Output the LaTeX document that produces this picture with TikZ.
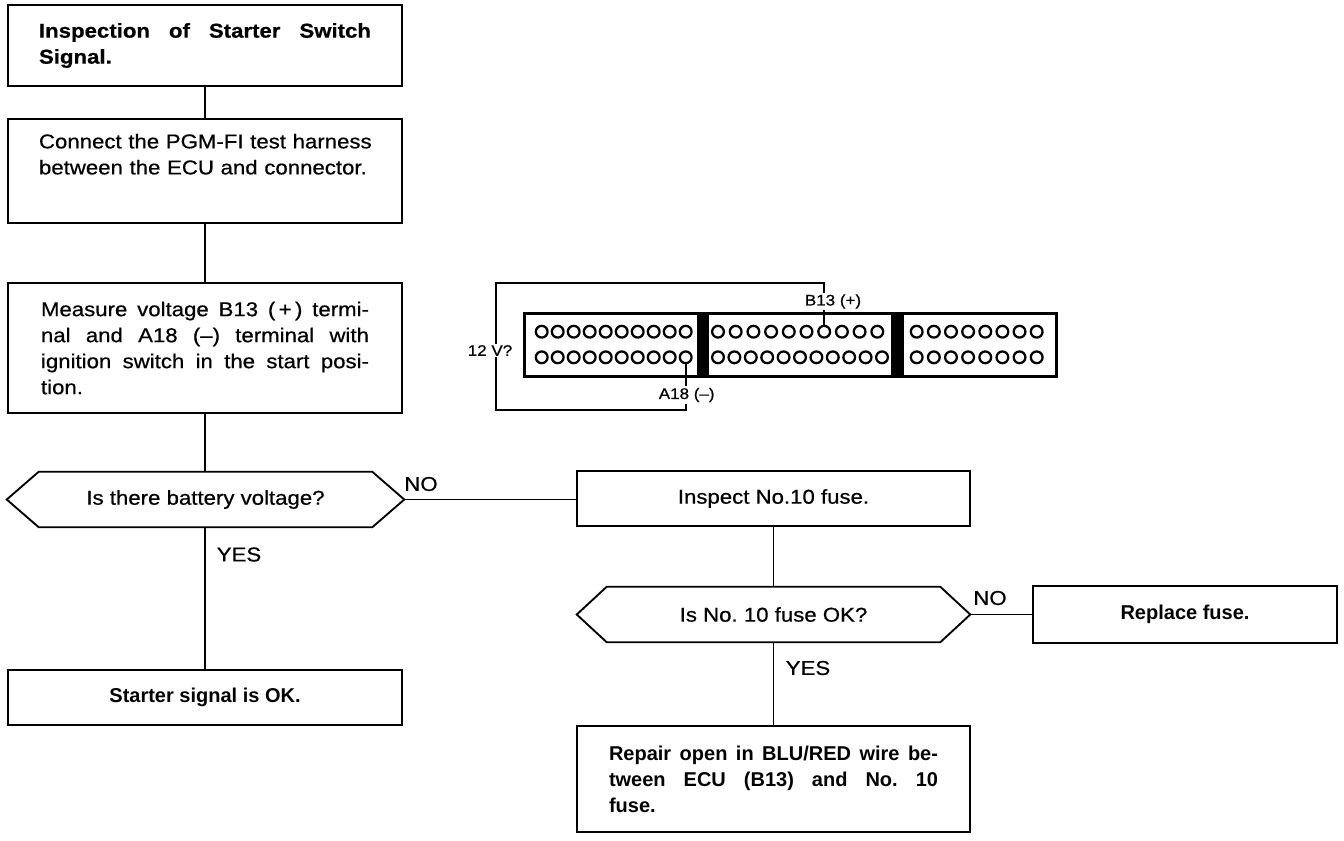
\documentclass[tikz,border=0pt]{standalone}
\usepackage{fontspec}
\setmainfont{Liberation Sans}[FakeStretch=1.11,FakeBold=0.6]
\newfontfamily\narrowsans{Liberation Sans}
\begin{document}
\begin{tikzpicture}[x=0.75pt,y=-0.75pt,
  every node/.style={font=\fontsize{15}{19.5}\selectfont},
  flowbox/.style={draw, line width=1.4pt, inner sep=0pt, minimum width=295.5pt},
  hexnode/.style={inner sep=0pt},
  hexline/.style={line width=1.4pt, line join=miter},
  link/.style={line width=1.4pt},
  tag/.style={inner sep=0pt},
  pinhole/.style={circle, draw, line width=1.7pt, minimum size=8.8pt, inner sep=0pt},
  wire/.style={line width=1.5pt},
  pinlabel/.style={fill=white, inner sep=1.2pt, font=\fontsize{11.5}{13}\selectfont}]
\useasboundingbox (0,0) rectangle (1344,840);

% ---- left column ----
\node[flowbox, minimum height=60.75pt, text width=249pt, align=justify] (b1) at (205,45.5)
  {\bfseries Inspection of Starter Switch\linebreak Signal.};
\node[flowbox, minimum height=78pt, text width=249pt, align=left] (b2) at (205,171)
  {\mbox{Connect the PGM-FI test harness}\\\mbox{between the ECU and connector.}\\\strut};
\node[flowbox, minimum height=97.5pt, text width=246pt, align=justify] (b3) at (205,348)
  {Measure voltage B13 (\,+\,) termi-\linebreak nal and A18 (--) terminal with\linebreak ignition switch in the start posi-\linebreak tion.};
\node[hexnode, minimum width=297.75pt, minimum height=41.25pt] (q1) at (205.5,499.5)
  {Is there battery voltage?};
\draw[hexline] (q1.west) -- ([xshift=24pt]q1.north west) -- ([xshift=-24pt]q1.north east)
  -- (q1.east) -- ([xshift=-24pt]q1.south east) -- ([xshift=24pt]q1.south west) -- cycle;
\node[flowbox, minimum height=41.25pt] (b4) at (205,697.5)
  {\narrowsans\bfseries Starter signal is OK.};

% ---- right column ----
\node[flowbox, minimum width=294.75pt, minimum height=41.25pt] (b5) at (773.5,498.5)
  {Inspect No.10 fuse.};
\node[hexnode, minimum width=294.75pt, minimum height=41.25pt] (q2) at (773.5,614.5)
  {Is No.\ 10 fuse OK?};
\draw[hexline] (q2.west) -- ([xshift=22.5pt]q2.north west) -- ([xshift=-22.5pt]q2.north east)
  -- (q2.east) -- ([xshift=-22.5pt]q2.south east) -- ([xshift=22.5pt]q2.south west) -- cycle;
\node[flowbox, minimum width=228pt, minimum height=42.75pt] (b6) at (1185,614.5)
  {\narrowsans\bfseries Replace fuse.};
\node[flowbox, minimum width=294.75pt, minimum height=79.5pt, text width=246.75pt, align=justify] (b7) at (773.5,779)
  {\narrowsans\bfseries Repair open in BLU/RED wire be-\linebreak tween ECU (B13) and No.\ 10\linebreak fuse.};

% ---- connectors ----
\draw[link] (b1.south) -- (b2.north);
\draw[link] (b2.south) -- (b3.north);
\draw[link] (b3.south) -- (b3.south |- q1.north);
\draw[link] (b3.south |- q1.south) -- (b4.north);
\draw[link] (q1.east) -- (b5.west |- q1.east);
\draw[link] (b5.south) -- (q2.north);
\draw[link] (q2.east) -- (b6.west);
\draw[link] (q2.south) -- (b7.north);

\node[tag] (no1) at (421,484) {NO};
\node[tag] (yes1) at (239,554.5) {YES};
\node[tag] (no2) at (990,598) {NO};
\node[tag] (yes2) at (808,668) {YES};

% ---- connector drawing ----
\draw[line width=2.25pt] (524,313) rectangle (1056,376);
\fill (697,313) rectangle (709,376);
\fill (891,313) rectangle (904,376);
\foreach \i in {0,...,9} {
  \node[pinhole] (la\i) at (541.7+16*\i,331.7) {};
}
\foreach \i in {0,...,8} {
  \node[pinhole] (lb\i) at (541.7+16*\i,357.3) {};
}
\node[pinhole] (A18pin) at (685.7,357.3) {};
\foreach \i in {0,1,2,3,4,5,7,8,9} {
  \node[pinhole] (ma\i) at (718+17.7*\i,331.7) {};
}
\node[pinhole] (B13pin) at (824.2,331.7) {};
\foreach \i in {0,...,10} {
  \node[pinhole] (mb\i) at (718+16.4*\i,357.3) {};
}
\foreach \i in {0,...,7} {
  \node[pinhole] (ra\i) at (916.7+17.14*\i,331.7) {};
  \node[pinhole] (rb\i) at (916.7+17.14*\i,357.3) {};
}
\coordinate (wBL) at (496,410);
\coordinate (wTL) at (496,283);
\draw[wire] (A18pin.south) |- (wBL) -- (wTL) -| (B13pin.north);
\node[pinlabel] (lv) at (490,350.5) {12 V?};
\node[pinlabel] (lb13) at (833,301.5) {B13 (+)};
\node[pinlabel] (la18) at (686.7,395) {A18 (--)};
\end{tikzpicture}
\end{document}
